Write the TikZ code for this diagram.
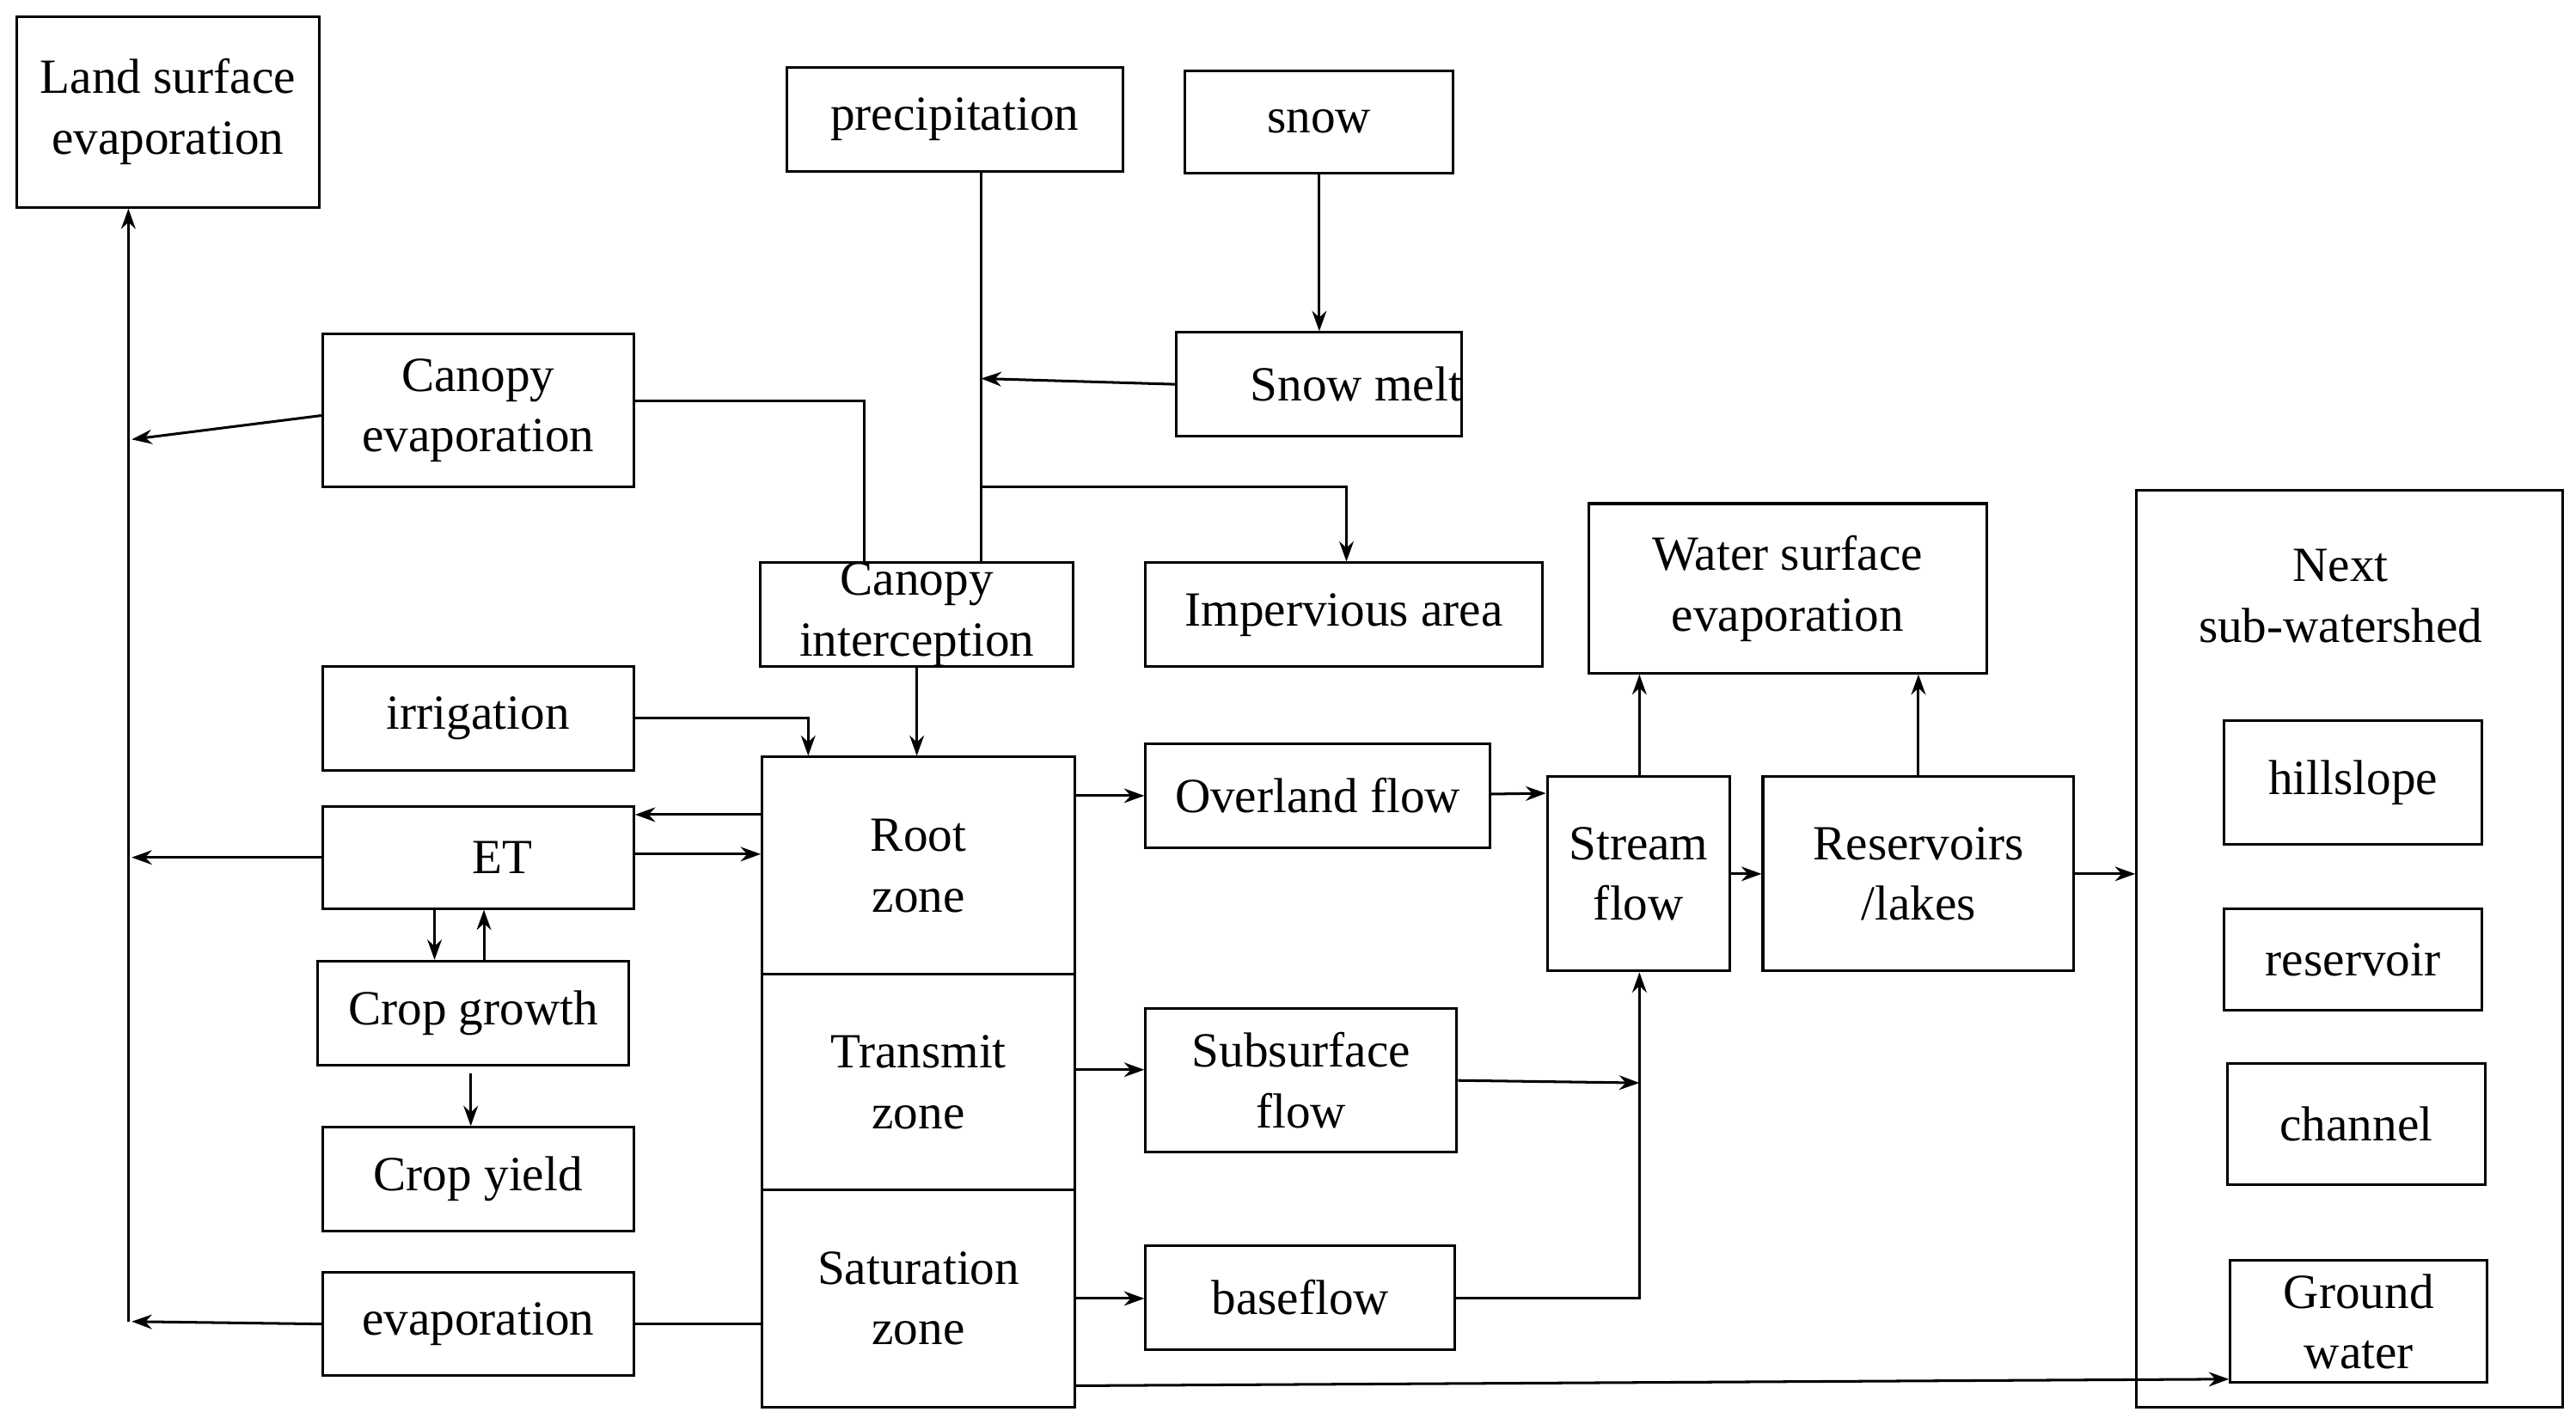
\documentclass[tikz,border=0pt]{standalone}
\usepackage{fontspec}
\setmainfont{Liberation Serif}
\usetikzlibrary{arrows.meta}
\begin{document}
\begin{tikzpicture}[x=0.02cm,y=-0.02cm,
  box/.style={draw,line width=0.9pt,inner sep=0pt,align=center,font=\fontsize{17}{21}\selectfont},
  ln/.style={line width=0.9pt},
  ar/.style={line width=0.9pt,-{Stealth[length=7pt,width=5pt]}}]
\useasboundingbox (0,0) rectangle (1565,865);
\newcommand\bx[6]{\node[box,minimum width={(#4-#2)*0.02cm},minimum height={(#5-#3)*0.02cm}] (#1) at ({(#2+#4)/2},{(#3+#5)/2}) {#6};}
\bx{lse}{10}{10}{194}{126}{Land surface\\evaporation}
\bx{prec}{478}{41}{682}{104}{precipitation}
\bx{snow}{720}{43}{883}{105}{snow}
\bx{cev}{196}{203}{385}{296}{Canopy\\evaporation}
\bx{melt}{720}{202}{883}{265}{\hspace*{1.5em}Snow melt}
\bx{imp}{696}{342}{937}{405}{Impervious area}
\bx{ci}{462}{342}{652}{405}{Canopy\\interception}
\bx{wse}{965}{306}{1207}{409}{Water surface\\evaporation}
\bx{next}{1298}{298}{1557}{855}{}
\node[box,draw=none] (nextt) at (1422,362) {Next\\sub-watershed};
\bx{hill}{1351}{438}{1508}{513}{hillslope}
\bx{res}{1351}{552}{1508}{614}{reservoir}
\bx{chan}{1353}{646}{1510}{720}{channel}
\bx{gw}{1355}{766}{1511}{840}{Ground\\water}
\bx{irr}{196}{405}{385}{468}{irrigation}
\bx{et}{196}{490}{385}{552}{\hspace*{1em}ET}
\bx{cg}{193}{584}{382}{647}{Crop growth}
\bx{cy}{196}{685}{385}{748}{Crop yield}
\bx{ev}{196}{773}{385}{836}{evaporation}
\bx{root}{463}{460}{653}{592}{Root\\zone}
\bx{trans}{463}{592}{653}{723}{Transmit\\zone}
\bx{sat}{463}{723}{653}{855}{Saturation\\zone}
\bx{over}{696}{452}{905}{515}{Overland flow}
\bx{sub}{696}{613}{885}{700}{Subsurface\\flow}
\bx{base}{696}{757}{884}{820}{baseflow}
\bx{stream}{940}{472}{1051}{590}{Stream\\flow}
\bx{rl}{1071}{472}{1260}{590}{Reservoirs\\/lakes}
\coordinate (vb) at (78,803);
\coordinate (pj) at (596,230);
\coordinate (pk) at (596,296);
\draw[ar] (vb) -- (vb |- lse.south);
\draw[ar] (cev.west) ++(0,3) -- (80,267);
\draw[ar] (et.west) -- (80,521);
\draw[ar] (ev.west) -- (80,803);
\draw[ln] (prec.south -| pj) -- (ci.north -| pj);
\draw[ar] (snow.south) -- (melt.north -| snow.south);
\draw[ar] (melt.west) -- (pj);
\draw[ar] (pk) -| (imp.north -| 818,0);
\draw[ln] (cev.east) ++(0,-6) -| (ci.north -| 525,0);
\draw[ar] (ci.south -| 557,0) -- (root.north -| 557,0);
\draw[ar] (irr.east) -| (root.north -| 491,0);
\draw[ar] (root.west |- 0,495) -- (et.east |- 0,495);
\draw[ar] (et.east |- 0,519) -- (root.west |- 0,519);
\draw[ar] (et.south -| 264,0) -- (cg.north -| 264,0);
\draw[ar] (cg.north -| 294,0) -- (et.south -| 294,0);
\draw[ar] (286,652) -- (cy.north -| 286,0);
\draw[ln] (ev.east) -- (sat.west |- ev.east);
\draw[ar] (root.east |- over.west) -- (over.west);
\draw[ar] (over.east) ++(0,-1) -- (stream.west |- 0,482);
\draw[ar] (stream.north -| 996,0) -- (wse.south -| 996,0);
\draw[ar] (stream.east) -- (rl.west);
\draw[ar] (rl.north) -- (wse.south -| rl.north);
\draw[ar] (rl.east) -- (next.west |- rl.east);
\draw[ar] (trans.east |- 0,650) -- (sub.west |- 0,650);
\draw[ar] (sub.east) -- (996,658);
\draw[ar] (sat.east |- 0,789) -- (base.west |- 0,789);
\draw[ar] (base.east |- 0,789) -| (stream.south -| 996,0);
\draw[ar] (sat.east |- 0,842) -- (gw.west |- 0,838);
\end{tikzpicture}
\end{document}
